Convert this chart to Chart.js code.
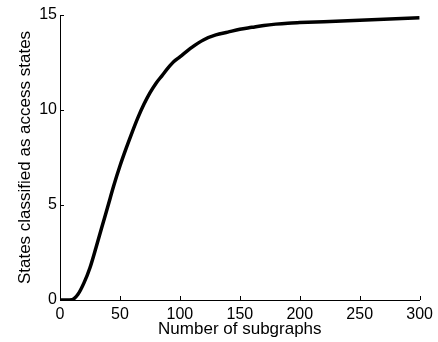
<!DOCTYPE html>
<html>
<head>
<meta charset="utf-8">
<script src="https://cdn.jsdelivr.net/npm/chart.js@4.4.1/dist/chart.umd.min.js"></script>
<style>
  html, body { margin: 0; padding: 0; background: #fff; }
  #wrap { width: 438px; height: 342px; }
</style>
</head>
<body>
<div id="wrap"><canvas id="lineChart" width="438" height="342"></canvas></div>
<script>
// data
const subgraphs = [0, 5, 10, 15, 20, 25, 30, 35, 40, 45, 50, 55, 60, 65, 70, 75, 80, 85, 90, 95,
                   100, 110, 120, 130, 140, 150, 160, 170, 180, 190, 200, 220, 240, 260, 280, 300];
const accessStates = [0, 0, 0.02, 0.3, 0.9, 1.7, 2.75, 3.85, 4.95, 6.05, 7.05, 7.95, 8.8, 9.6, 10.3, 10.9,
                      11.4, 11.8, 12.2, 12.55, 12.8, 13.3, 13.7, 13.95, 14.1, 14.25, 14.35, 14.45, 14.52,
                      14.57, 14.6, 14.65, 14.7, 14.75, 14.8, 14.85];
const xTicks = [0, 50, 100, 150, 200, 250, 300];
const yTicks = [0, 5, 10, 15];

const points = subgraphs.map((x, i) => ({ x: x, y: accessStates[i] }));

// inward tick marks, like the original plot
const innerTicks = {
    id: 'innerTicks',
    afterDraw(chart) {
        const ctx = chart.ctx;
        const xs = chart.scales.x, ys = chart.scales.y;
        const area = chart.chartArea;
        ctx.save();
        ctx.strokeStyle = '#000';
        ctx.lineWidth = 1;
        ctx.beginPath();
        xTicks.forEach(v => {
            const px = Math.round(xs.getPixelForValue(v)) + 0.5;
            ctx.moveTo(px, area.bottom);
            ctx.lineTo(px, area.bottom - 4);
        });
        yTicks.forEach(v => {
            const py = Math.round(ys.getPixelForValue(v)) + 0.5;
            ctx.moveTo(area.left, py);
            ctx.lineTo(area.left + 4, py);
        });
        ctx.stroke();
        ctx.restore();
    }
};

const ctx = document.getElementById('lineChart').getContext('2d');
const chart = new Chart(ctx, {
    type: 'line',
    data: {
        datasets: [{
            data: points,
            borderColor: '#000',
            borderWidth: 3.5,
            pointRadius: 0,
            cubicInterpolationMode: 'monotone',
            fill: false
        }]
    },
    options: {
        responsive: false,
        animation: false,
        layout: { padding: { top: 15, right: 16, left: 0, bottom: 0 } },
        plugins: { legend: { display: false }, tooltip: { enabled: false } },
        scales: {
            x: {
                type: 'linear',
                min: 0, max: 300,
                afterBuildTicks: s => { s.ticks = xTicks.map(v => ({ value: v })); },
                afterFit: s => { s.height = 42; },
                grid: { display: false, drawTicks: false },
                border: { display: true, color: '#000', width: 1 },
                ticks: { color: '#000', padding: 5, maxRotation: 0, font: { family: 'Liberation Sans', size: 16 } },
                title: { display: true, text: 'Number of subgraphs', color: '#000',
                         padding: { top: 0, bottom: 2 }, font: { family: 'Liberation Sans', size: 17 } }
            },
            y: {
                min: 0, max: 15,
                afterBuildTicks: s => { s.ticks = yTicks.map(v => ({ value: v })); },
                afterFit: s => { s.width = 60; },
                grid: { display: false, drawTicks: false },
                border: { display: true, color: '#000', width: 1 },
                ticks: { color: '#000', padding: 3, font: { family: 'Liberation Sans', size: 16 } },
                title: { display: true, text: 'States classified as access states', color: '#000',
                         padding: { top: 15, bottom: 0 }, font: { family: 'Liberation Sans', size: 17 } }
            }
        }
    },
    plugins: [innerTicks]
});
</script>
</body>
</html>
